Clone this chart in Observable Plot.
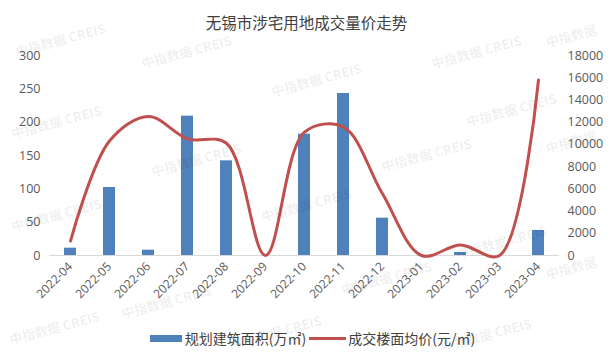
<!DOCTYPE html>
<html>
<head>
<meta charset="utf-8">
<script src="https://cdn.jsdelivr.net/npm/d3@7"></script>
<script src="https://cdn.jsdelivr.net/npm/@observablehq/plot@0.6"></script>
<style>
  html, body { margin: 0; padding: 0; background: #fff; }
  #wrap { position: relative; width: 613px; height: 364px; overflow: hidden; font-family: "Noto Sans CJK SC", "Noto Sans", sans-serif; }
  #title { position: absolute; top: 11px; left: 0; width: 613px; text-align: center; font-size: 15.5px; line-height: 22px; color: #404040; }
  #legend { position: absolute; top: 328px; left: 0; width: 613px; display: flex; justify-content: center; align-items: center; font-size: 14px; line-height: 20px; color: #404040; padding-left: 12px; box-sizing: border-box; }
  .sw-bar { display: inline-block; width: 32px; height: 7px; background: #4F81BD; margin-right: 3px; }
  .sw-line { display: inline-block; width: 37px; height: 3px; background: #C0504D; margin: 0 2px 0 3px; }
  .wm { position: absolute; font-size: 13px; font-weight: bold; color: rgba(0,0,0,0.07); transform: rotate(-15deg); white-space: nowrap; pointer-events: none; }
  svg { position: absolute; top: 0; left: 0; }
</style>
</head>
<body>
<div id="wrap">
  <div id="chart"></div>
  <div id="title"></div>
  <div id="legend"></div>
</div>
<script>
const title = "无锡市涉宅用地成交量价走势";
const months = ["2022-04","2022-05","2022-06","2022-07","2022-08","2022-09","2022-10","2022-11","2022-12","2023-01","2023-02","2023-03","2023-04"];
const area = [11, 102, 8, 209, 142, 0, 182, 243, 56, 0, 4.5, 0, 37.5];
const price = [1300, 10300, 12500, 10500, 10100, 0, 11100, 11550, 5550, 0, 950, 0, 15800];
const leftTicks = [0, 50, 100, 150, 200, 250, 300];
const rightTicks = [0, 2000, 4000, 6000, 8000, 10000, 12000, 14000, 16000, 18000];
const areaName = "规划建筑面积(万㎡)";
const priceName = "成交楼面均价(元/㎡)";
const watermark = "中指数据  CREIS";
const watermarkShort = "中指数据";

const ratio = 18000 / 300;
const rows = months.map((m, i) => ({month: m, area: area[i], price: price[i], p: price[i] / ratio}));

const chart = Plot.plot({
  width: 613,
  height: 364,
  marginTop: 55,
  marginBottom: 109,
  marginLeft: 49,
  marginRight: 54,
  style: {fontFamily: "'Open Sans', 'Noto Sans', sans-serif", fontSize: "12.5px", color: "#595959", background: "transparent"},
  x: {domain: months, paddingInner: 0.69, paddingOuter: 0.345, label: null},
  y: {domain: [0, 300], label: null},
  marks: [
    Plot.axisY({ticks: leftTicks, tickSize: 0, tickPadding: 9, label: null, fill: "#595959", fontSize: 12.5}),
    Plot.axisY({ticks: rightTicks.map(v => v / ratio), tickFormat: d => String(Math.round(d * ratio)), anchor: "right", tickSize: 0, tickPadding: 8, label: null, fill: "#595959", textAnchor: "start", fontSize: 12.5}),
    Plot.axisX({tickSize: 0, tickRotate: -45, tickPadding: 9, label: null, fill: "#595959", fontSize: 12}),
    Plot.barY(rows, {x: "month", y: "area", fill: "#4F81BD"}),
    Plot.ruleY([0], {stroke: "#d9d9d9", strokeWidth: 1}),
    Plot.line(rows, {x: "month", y: "p", stroke: "#C0504D", strokeWidth: 3, curve: "catmull-rom"})
  ]
});
document.getElementById("chart").appendChild(chart);
document.getElementById("title").textContent = title;
document.getElementById("legend").innerHTML =
  `<span class="sw-bar"></span><span>${areaName}</span><span class="sw-line"></span><span>${priceName}</span>`;

const wmPos = [[14,30,0],[140,42,0],[430,42,0],[545,26,1],[10,112,0],[270,70,0],[465,100,0],[150,150,0],[380,145,0],[545,132,1],[10,205,0],[260,195,0],[455,232,0],[120,292,0],[340,268,0],[545,258,1],[8,318,0],[230,322,0],[440,325,0]];
const wrap = document.getElementById("wrap");
for (const [x, y, s] of wmPos) {
  const d = document.createElement("div");
  d.className = "wm";
  d.style.left = x + "px";
  d.style.top = y + "px";
  d.textContent = s ? watermarkShort : watermark;
  wrap.appendChild(d);
}
</script>
</body>
</html>
